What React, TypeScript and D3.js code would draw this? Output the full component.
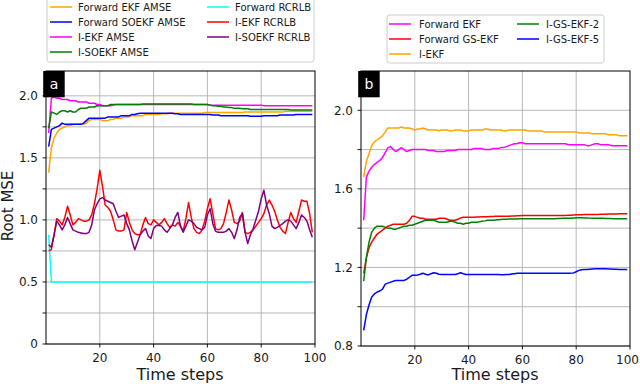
import React from 'react';
import * as d3 from 'd3';

// time steps 1..99 shared by every series
const steps = d3.range(1, 100);

// ---- panel a ----
const fwdEkfAmse = [
  1.38, 1.58, 1.66, 1.70, 1.73, 1.74, 1.75, 1.76, 1.76, 1.77,
  1.77, 1.77, 1.77, 1.77, 1.78, 1.80, 1.81, 1.81, 1.81, 1.81,
  1.80, 1.80, 1.80, 1.81, 1.81, 1.82, 1.82, 1.82, 1.83, 1.83,
  1.83, 1.84, 1.84, 1.84, 1.84, 1.84, 1.85, 1.85, 1.85, 1.85,
  1.85, 1.85, 1.855, 1.855, 1.855, 1.86, 1.86, 1.86, 1.86, 1.86,
  1.86, 1.86, 1.86, 1.86, 1.86, 1.86, 1.86, 1.86, 1.865, 1.865,
  1.865, 1.865, 1.865, 1.865, 1.865, 1.865, 1.865, 1.865, 1.865, 1.865,
  1.865, 1.865, 1.865, 1.87, 1.87, 1.87, 1.87, 1.87, 1.87, 1.87,
  1.87, 1.87, 1.87, 1.87, 1.87, 1.87, 1.87, 1.87, 1.875, 1.875,
  1.875, 1.875, 1.875, 1.875, 1.875, 1.875, 1.875, 1.875, 1.875,
];
const fwdSoekfAmse = [
  1.59, 1.73, 1.74, 1.75, 1.76, 1.78, 1.77, 1.77, 1.77, 1.77,
  1.77, 1.77, 1.77, 1.78, 1.80, 1.82, 1.82, 1.82, 1.82, 1.82,
  1.82, 1.82, 1.83, 1.83, 1.83, 1.83, 1.83, 1.84, 1.84, 1.84,
  1.84, 1.85, 1.85, 1.855, 1.86, 1.86, 1.86, 1.86, 1.86, 1.86,
  1.86, 1.86, 1.86, 1.86, 1.86, 1.86, 1.86, 1.855, 1.855, 1.85,
  1.85, 1.85, 1.85, 1.85, 1.85, 1.85, 1.85, 1.85, 1.85, 1.85,
  1.85, 1.845, 1.845, 1.845, 1.84, 1.84, 1.84, 1.84, 1.84, 1.84,
  1.84, 1.84, 1.84, 1.84, 1.84, 1.835, 1.835, 1.835, 1.835, 1.835,
  1.84, 1.84, 1.84, 1.84, 1.84, 1.84, 1.845, 1.845, 1.845, 1.845,
  1.845, 1.845, 1.85, 1.85, 1.85, 1.85, 1.85, 1.85, 1.85,
];
const iEkfAmse = [
  1.70, 1.98, 1.99, 1.98, 1.98, 1.97, 1.97, 1.97, 1.96, 1.96,
  1.96, 1.95, 1.95, 1.95, 1.95, 1.94, 1.94, 1.94, 1.93, 1.93,
  1.92, 1.92, 1.92, 1.92, 1.925, 1.93, 1.93, 1.93, 1.93, 1.93,
  1.93, 1.93, 1.93, 1.93, 1.93, 1.93, 1.93, 1.93, 1.93, 1.93,
  1.93, 1.93, 1.93, 1.93, 1.93, 1.93, 1.93, 1.93, 1.93, 1.93,
  1.93, 1.93, 1.93, 1.93, 1.93, 1.93, 1.93, 1.93, 1.93, 1.93,
  1.925, 1.925, 1.925, 1.925, 1.925, 1.925, 1.925, 1.925, 1.925, 1.925,
  1.925, 1.925, 1.925, 1.925, 1.925, 1.925, 1.925, 1.925, 1.925, 1.925,
  1.92, 1.92, 1.92, 1.92, 1.92, 1.92, 1.92, 1.92, 1.92, 1.92,
  1.92, 1.92, 1.92, 1.92, 1.92, 1.92, 1.92, 1.92, 1.92,
];
const iSoekfAmse = [
  1.74, 1.87, 1.86, 1.85, 1.87, 1.88, 1.88, 1.87, 1.88, 1.87,
  1.87, 1.89, 1.90, 1.90, 1.90, 1.91, 1.91, 1.91, 1.92, 1.92,
  1.92, 1.92, 1.92, 1.93, 1.93, 1.93, 1.93, 1.93, 1.93, 1.93,
  1.93, 1.93, 1.93, 1.93, 1.93, 1.935, 1.935, 1.935, 1.935, 1.935,
  1.935, 1.935, 1.935, 1.935, 1.935, 1.935, 1.935, 1.935, 1.935, 1.935,
  1.935, 1.935, 1.935, 1.935, 1.93, 1.93, 1.93, 1.93, 1.93, 1.93,
  1.925, 1.92, 1.92, 1.915, 1.915, 1.91, 1.91, 1.905, 1.905, 1.90,
  1.90, 1.90, 1.895, 1.895, 1.895, 1.89, 1.89, 1.89, 1.89, 1.89,
  1.89, 1.89, 1.89, 1.89, 1.89, 1.89, 1.89, 1.89, 1.89, 1.89,
  1.885, 1.885, 1.885, 1.885, 1.885, 1.885, 1.885, 1.885, 1.885,
];
const fwdRcrlb = [
  0.88, 0.50, 0.50, 0.50, 0.50, 0.50, 0.50, 0.50, 0.50, 0.50,
  0.50, 0.50, 0.50, 0.50, 0.50, 0.50, 0.50, 0.50, 0.50, 0.50,
  0.50, 0.50, 0.50, 0.50, 0.50, 0.50, 0.50, 0.50, 0.50, 0.50,
  0.50, 0.50, 0.50, 0.50, 0.50, 0.50, 0.50, 0.50, 0.50, 0.50,
  0.50, 0.50, 0.50, 0.50, 0.50, 0.50, 0.50, 0.50, 0.50, 0.50,
  0.50, 0.50, 0.50, 0.50, 0.50, 0.50, 0.50, 0.50, 0.50, 0.50,
  0.50, 0.50, 0.50, 0.50, 0.50, 0.50, 0.50, 0.50, 0.50, 0.50,
  0.50, 0.50, 0.50, 0.50, 0.50, 0.50, 0.50, 0.50, 0.50, 0.50,
  0.50, 0.50, 0.50, 0.50, 0.50, 0.50, 0.50, 0.50, 0.50, 0.50,
  0.50, 0.50, 0.50, 0.50, 0.50, 0.50, 0.50, 0.50, 0.50,
];
const iEkfRcrlb = [
  0.75, 0.76, 0.88, 1.01, 0.99, 0.96, 1.02, 1.11, 1.04, 0.96,
  0.98, 1.01, 1.00, 0.99, 0.99, 1.00, 1.04, 1.13, 1.25, 1.40,
  1.27, 1.12, 1.10, 1.07, 1.00, 0.92, 0.91, 0.91, 0.92, 1.06,
  0.98, 0.92, 0.89, 0.88, 0.88, 0.96, 1.02, 0.97, 0.96, 1.00,
  0.98, 0.96, 0.98, 1.01, 0.97, 0.94, 0.96, 0.95, 0.98, 0.95,
  0.91, 1.01, 1.14, 1.02, 0.93, 0.90, 0.89, 0.92, 0.99, 1.09,
  1.17, 1.05, 0.93, 0.92, 0.93, 0.97, 1.06, 1.16, 1.08, 0.98,
  0.97, 0.99, 1.06, 0.90, 0.89, 0.90, 0.92, 0.95, 0.98, 1.01,
  1.05, 1.12, 1.16, 1.12, 1.07, 1.00, 0.94, 0.91, 0.89, 0.98,
  1.06, 1.01, 0.98, 1.07, 1.16, 1.15, 1.15, 1.05, 0.90,
];
const iSoekfRcrlb = [
  0.80, 0.78, 0.88, 0.99, 0.96, 0.92, 0.96, 1.02, 0.97, 0.92,
  0.91, 0.90, 0.895, 0.89, 0.89, 0.90, 0.96, 1.08, 1.13, 1.17,
  1.18, 1.16, 1.15, 1.14, 1.13, 1.07, 1.02, 1.03, 1.04, 0.97,
  0.92, 0.83, 0.76, 0.82, 0.88, 0.91, 0.93, 0.87, 0.85, 0.93,
  0.955, 0.955, 0.95, 0.92, 0.90, 0.93, 0.96, 1.02, 1.06, 0.95,
  0.90, 0.95, 1.00, 0.99, 0.97, 0.94, 0.93, 0.92, 0.94, 1.04,
  1.09, 0.97, 0.91, 0.90, 0.90, 0.90, 0.91, 0.93, 0.90, 0.85,
  0.92, 1.02, 1.05, 0.90, 0.81, 0.88, 0.93, 1.00, 1.07, 1.17,
  1.24, 1.12, 1.05, 0.95, 0.93, 0.94, 0.955, 0.97, 0.99, 1.00,
  0.99, 0.96, 0.93, 0.98, 1.04, 1.02, 0.99, 0.92, 0.86,
];

// ---- panel b ----
const fwdEkf = [
  1.44, 1.66, 1.69, 1.71, 1.725, 1.735, 1.745, 1.76, 1.785, 1.81,
  1.815, 1.80, 1.79, 1.80, 1.81, 1.80, 1.79, 1.795, 1.80, 1.80,
  1.80, 1.80, 1.80, 1.80, 1.795, 1.795, 1.795, 1.79, 1.79, 1.79,
  1.79, 1.795, 1.795, 1.795, 1.795, 1.80, 1.80, 1.80, 1.80, 1.80,
  1.80, 1.805, 1.805, 1.805, 1.805, 1.80, 1.80, 1.80, 1.805, 1.805,
  1.805, 1.81, 1.81, 1.815, 1.82, 1.825, 1.83, 1.83, 1.835, 1.835,
  1.83, 1.83, 1.83, 1.83, 1.83, 1.83, 1.83, 1.83, 1.83, 1.83,
  1.83, 1.83, 1.83, 1.83, 1.83, 1.83, 1.825, 1.825, 1.825, 1.825,
  1.825, 1.825, 1.825, 1.82, 1.82, 1.825, 1.83, 1.83, 1.825, 1.825,
  1.825, 1.825, 1.82, 1.82, 1.82, 1.82, 1.82, 1.82, 1.82,
];
const fwdGsEkf = [
  1.17, 1.25, 1.30, 1.33, 1.35, 1.37, 1.38, 1.39, 1.40, 1.41,
  1.415, 1.42, 1.42, 1.42, 1.42, 1.42, 1.425, 1.44, 1.46, 1.46,
  1.455, 1.45, 1.45, 1.445, 1.445, 1.445, 1.445, 1.445, 1.45, 1.45,
  1.45, 1.445, 1.44, 1.44, 1.44, 1.445, 1.452, 1.455, 1.455, 1.456,
  1.456, 1.456, 1.457, 1.457, 1.458, 1.458, 1.458, 1.459, 1.459, 1.46,
  1.46, 1.46, 1.46, 1.461, 1.461, 1.462, 1.462, 1.463, 1.463, 1.464,
  1.464, 1.464, 1.464, 1.464, 1.464, 1.464, 1.464, 1.464, 1.464, 1.464,
  1.464, 1.464, 1.464, 1.465, 1.465, 1.465, 1.466, 1.466, 1.467, 1.468,
  1.468, 1.468, 1.469, 1.469, 1.47, 1.47, 1.47, 1.47, 1.471, 1.471,
  1.471, 1.472, 1.472, 1.472, 1.472, 1.473, 1.473, 1.473, 1.473,
];
const iEkf = [
  1.66, 1.74, 1.78, 1.82, 1.84, 1.85, 1.86, 1.87, 1.89, 1.91,
  1.91, 1.91, 1.91, 1.91, 1.915, 1.91, 1.91, 1.91, 1.905, 1.90,
  1.905, 1.905, 1.91, 1.905, 1.90, 1.90, 1.90, 1.90, 1.895, 1.90,
  1.90, 1.90, 1.895, 1.895, 1.90, 1.90, 1.90, 1.895, 1.895, 1.895,
  1.90, 1.90, 1.90, 1.90, 1.90, 1.905, 1.905, 1.90, 1.90, 1.90,
  1.90, 1.90, 1.895, 1.895, 1.90, 1.90, 1.90, 1.90, 1.90, 1.90,
  1.90, 1.895, 1.895, 1.895, 1.895, 1.895, 1.895, 1.89, 1.89, 1.89,
  1.89, 1.89, 1.89, 1.89, 1.89, 1.89, 1.89, 1.89, 1.89, 1.89,
  1.885, 1.885, 1.885, 1.885, 1.885, 1.88, 1.88, 1.88, 1.88, 1.88,
  1.88, 1.875, 1.875, 1.875, 1.875, 1.87, 1.87, 1.87, 1.87,
];
const iGsEkf2 = [
  1.13, 1.25, 1.33, 1.38, 1.40, 1.41, 1.41, 1.41, 1.405, 1.40,
  1.40, 1.395, 1.395, 1.40, 1.405, 1.41, 1.41, 1.415, 1.415, 1.42,
  1.425, 1.43, 1.435, 1.44, 1.44, 1.44, 1.44, 1.435, 1.43, 1.43,
  1.43, 1.43, 1.435, 1.435, 1.43, 1.425, 1.425, 1.42, 1.425, 1.425,
  1.43, 1.43, 1.43, 1.432, 1.435, 1.437, 1.44, 1.44, 1.44, 1.442,
  1.443, 1.444, 1.445, 1.445, 1.446, 1.446, 1.447, 1.447, 1.448, 1.448,
  1.448, 1.448, 1.448, 1.448, 1.448, 1.448, 1.448, 1.448, 1.448, 1.448,
  1.448, 1.448, 1.449, 1.449, 1.45, 1.45, 1.45, 1.45, 1.452, 1.453,
  1.453, 1.453, 1.452, 1.452, 1.451, 1.45, 1.45, 1.45, 1.45, 1.45,
  1.449, 1.449, 1.449, 1.448, 1.448, 1.448, 1.448, 1.448, 1.448,
];
const iGsEkf5 = [
  0.88, 0.96, 1.01, 1.05, 1.065, 1.075, 1.08, 1.09, 1.115, 1.12,
  1.125, 1.13, 1.134, 1.134, 1.134, 1.134, 1.14, 1.15, 1.16, 1.16,
  1.162, 1.165, 1.17, 1.165, 1.162, 1.168, 1.173, 1.17, 1.165, 1.164,
  1.164, 1.164, 1.164, 1.164, 1.164, 1.168, 1.173, 1.168, 1.164, 1.164,
  1.164, 1.164, 1.164, 1.164, 1.164, 1.164, 1.164, 1.164, 1.164, 1.164,
  1.164, 1.163, 1.163, 1.164, 1.164, 1.166, 1.168, 1.17, 1.171, 1.171,
  1.171, 1.171, 1.171, 1.171, 1.171, 1.171, 1.171, 1.171, 1.171, 1.171,
  1.171, 1.171, 1.171, 1.171, 1.171, 1.171, 1.171, 1.171, 1.172, 1.178,
  1.185, 1.188, 1.189, 1.19, 1.191, 1.192, 1.193, 1.193, 1.193, 1.193,
  1.193, 1.192, 1.192, 1.191, 1.191, 1.19, 1.19, 1.19, 1.19,
];

const xTicks = [20, 40, 60, 80, 100];
const yTicksA = [0, 0.25, 0.5, 0.75, 1.0, 1.25, 1.5, 1.75, 2.0];
const yLabelsA = ['0', '', '0.5', '', '1.0', '', '1.5', '', '2.0'];
const yTicksB = [0.8, 1.0, 1.2, 1.4, 1.6, 1.8, 2.0];
const yLabelsB = ['0.8', '', '1.2', '', '1.6', '', '2.0'];

const namesA = ['Forward EKF AMSE', 'Forward SOEKF AMSE', 'I-EKF AMSE', 'I-SOEKF AMSE', 'Forward RCRLB', 'I-EKF RCRLB', 'I-SOEKF RCRLB'];
const colorsA = ['#ffa500', '#0000ff', '#ff00ff', '#008000', '#00ffff', '#ff0000', '#800080'];
const valuesA = [fwdEkfAmse, fwdSoekfAmse, iEkfAmse, iSoekfAmse, fwdRcrlb, iEkfRcrlb, iSoekfRcrlb];

const namesB = ['Forward EKF', 'Forward GS-EKF', 'I-EKF', 'I-GS-EKF-2', 'I-GS-EKF-5'];
const colorsB = ['#ff00ff', '#ff0000', '#ffa500', '#008000', '#0000ff'];
const valuesB = [fwdEkf, fwdGsEkf, iEkf, iGsEkf2, iGsEkf5];

const FONT = "'DejaVu Sans', sans-serif";
const INK = '#1a1a1a';

type Legend = {
  x: number; y: number; w: number; h: number;
  lineX: number[]; textX: number[]; rowY: number; perCol: number;
};

type PanelProps = {
  id: string; tag: string;
  x0: number; x1: number; yTop: number; yBottom: number;
  yDomain: [number, number];
  yTicks: number[]; yLabels: string[];
  names: string[]; colors: string[]; values: number[][];
  legend: Legend;
  xLabelX: number;
};

function Panel(p: PanelProps) {
  const x = d3.scaleLinear().domain([0, 100]).range([p.x0, p.x1]);
  const y = d3.scaleLinear().domain(p.yDomain).range([p.yBottom, p.yTop]);
  const line = d3.line<number>().x((_, i) => x(steps[i])).y(v => y(v));
  const lg = p.legend;
  return (
    <g>
      <defs>
        <clipPath id={p.id}>
          <rect x={p.x0} y={p.yTop} width={p.x1 - p.x0} height={p.yBottom - p.yTop} />
        </clipPath>
      </defs>
      {/* grid */}
      {xTicks.filter(t => t < 100).map(t => (
        <line key={'gx' + t} x1={x(t)} x2={x(t)} y1={p.yTop} y2={p.yBottom} stroke="#b0b0b0" strokeWidth={0.9} />
      ))}
      {p.yTicks.map(t => (
        <line key={'gy' + t} x1={p.x0} x2={p.x1} y1={y(t)} y2={y(t)} stroke="#b0b0b0" strokeWidth={0.9} />
      ))}
      {/* series */}
      <g clipPath={`url(#${p.id})`}>
        {p.values.map((vals, i) => (
          <path key={p.names[i]} d={line(vals) || ''} fill="none" stroke={p.colors[i]} strokeWidth={1.5} strokeLinejoin="round" />
        ))}
      </g>
      {/* frame */}
      <rect x={p.x0} y={p.yTop} width={p.x1 - p.x0} height={p.yBottom - p.yTop} fill="none" stroke="#000" strokeWidth={1} />
      {/* y ticks */}
      {p.yTicks.map((t, i) => (
        <g key={'ty' + t}>
          <line x1={p.x0 - 3.5} x2={p.x0} y1={y(t)} y2={y(t)} stroke="#000" strokeWidth={0.9} />
          <text x={p.x0 - 8} y={y(t)} dy="0.36em" textAnchor="end" fontFamily={FONT} fontSize={12} fill={INK}>{p.yLabels[i]}</text>
        </g>
      ))}
      {/* x ticks */}
      {xTicks.map(t => (
        <g key={'tx' + t}>
          <line x1={x(t)} x2={x(t)} y1={p.yBottom} y2={p.yBottom + 3.5} stroke="#000" strokeWidth={0.9} />
          <text x={Math.min(x(t), 639 - 11.5)} y={p.yBottom + 17.5} textAnchor="middle" fontFamily={FONT} fontSize={12} fill={INK}>{t}</text>
        </g>
      ))}
      <text x={p.xLabelX} y={380} textAnchor="middle" fontFamily={FONT} fontSize={16} fill={INK}>Time steps</text>
      {/* panel tag */}
      <rect x={p.x0 - 2.8} y={p.yTop} width={21.5} height={26.3} fill="#000" />
      <text x={p.x0 + 8} y={88.5} textAnchor="middle" fontFamily={FONT} fontSize={14} fill="#fff">{p.tag}</text>
      {/* legend */}
      <rect x={lg.x} y={lg.y} width={lg.w} height={lg.h} rx={2.5} fill="#fff" fillOpacity={0.85} stroke="#cccccc" strokeWidth={1} />
      {p.names.map((n, i) => {
        const c = Math.floor(i / lg.perCol);
        const r = i % lg.perCol;
        const ly = lg.rowY + r * 15;
        return (
          <g key={'lg' + n}>
            <line x1={lg.lineX[c]} x2={lg.lineX[c] + 22} y1={ly} y2={ly} stroke={p.colors[i]} strokeWidth={1.5} />
            <text x={lg.textX[c]} y={ly} dy="0.36em" fontFamily={FONT} fontSize={10} fill={INK}>{n}</text>
          </g>
        );
      })}
    </g>
  );
}

export default function App() {
  return (
    <svg width={640} height={384} style={{ position: 'absolute', left: 0, top: 0, background: '#fff' }}>
      <rect x={0} y={0} width={640} height={384} fill="#fff" />
      <Panel
        id="clipA" tag="a" x0={46} x1={315} yTop={71} yBottom={344} yDomain={[0, 2.2]}
        yTicks={yTicksA} yLabels={yLabelsA}
        names={namesA} colors={colorsA} values={valuesA}
        legend={{ x: 47, y: -5, w: 267, h: 67, lineX: [50, 207], textX: [78, 235], rowY: 7, perCol: 4 }}
        xLabelX={180}
      />
      <Panel
        id="clipB" tag="b" x0={361} x1={630} yTop={71} yBottom={346} yDomain={[0.8, 2.2]}
        yTicks={yTicksB} yLabels={yLabelsB}
        names={namesB} colors={colorsB} values={valuesB}
        legend={{ x: 387, y: 15, w: 217, h: 48, lineX: [389, 517], textX: [419, 546], rowY: 24, perCol: 3 }}
        xLabelX={495}
      />
      <text transform="translate(13,206) rotate(-90)" textAnchor="middle" fontFamily={FONT} fontSize={15} fill={INK}>Root MSE</text>
    </svg>
  );
}
